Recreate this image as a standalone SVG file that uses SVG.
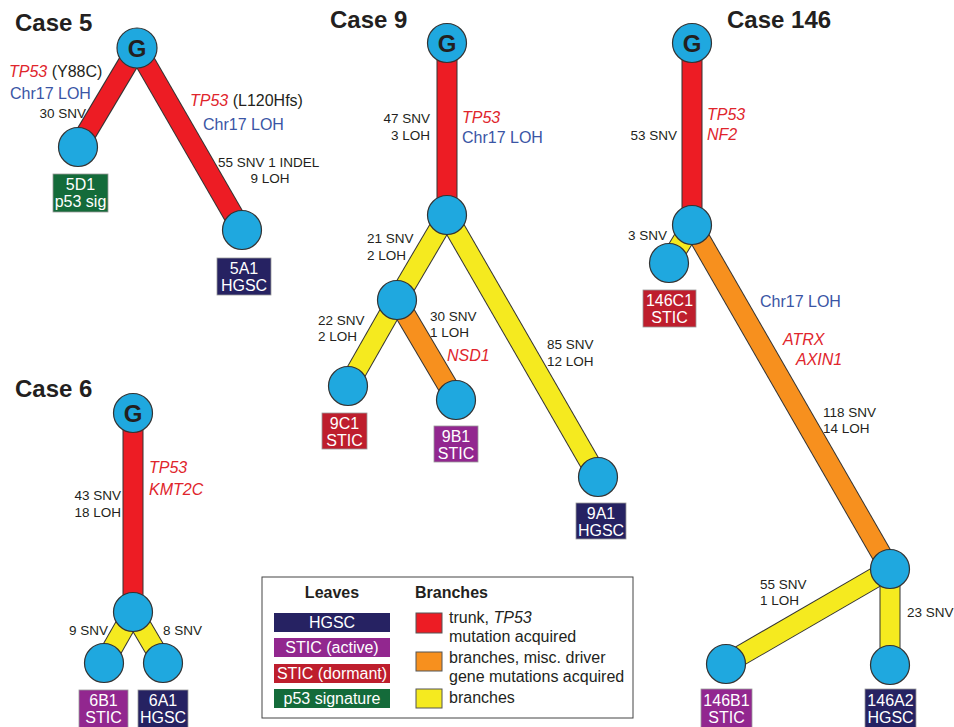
<svg xmlns="http://www.w3.org/2000/svg" width="954" height="727" viewBox="0 0 954 727">
<style>
text{font-family:"Liberation Sans",Arial,sans-serif;fill:#231f20}
.title{font-size:24px;font-weight:bold}
.g{font-size:24px;font-weight:bold;text-anchor:middle}
.cnt{font-size:13.5px}
.gene{font-size:16px;font-style:italic;fill:#e0252c}
.chr{font-size:16px;fill:#3a55a5}
.plain{font-size:16px}
.lbl{font-size:16px;fill:#fff;text-anchor:middle}
.node{fill:#1fa8df;stroke:#333;stroke-width:1.2}
.out{stroke:#333;stroke-width:21;stroke-linecap:butt}
.red{stroke:#ed1c24;stroke-width:19}
.org{stroke:#f7901e;stroke-width:19}
.yel{stroke:#f5ea1f;stroke-width:19}
.hgsc{fill:#262262}
.act{fill:#92278f}
.dor{fill:#be1e2d}
.p53{fill:#146b3a}
.box{stroke:#999;stroke-width:0.8}
.sw{stroke:#555;stroke-width:1}
</style>

<g id="connectors">
  <!-- Case 5 -->
  <line class="out" x1="137" y1="48" x2="78" y2="147"/><line class="red" x1="137" y1="48" x2="78" y2="147"/>
  <line class="out" x1="137" y1="48" x2="242" y2="230"/><line class="red" x1="137" y1="48" x2="242" y2="230"/>
  <!-- Case 9 -->
  <line class="out" x1="447" y1="43" x2="447" y2="215"/><line class="red" x1="447" y1="43" x2="447" y2="215"/>
  <line class="out" x1="447" y1="215" x2="397" y2="300"/><line class="yel" x1="447" y1="215" x2="397" y2="300"/>
  <line class="out" x1="447" y1="215" x2="598" y2="477"/><line class="yel" x1="447" y1="215" x2="598" y2="477"/>
  <line class="out" x1="397" y1="300" x2="348" y2="386"/><line class="yel" x1="397" y1="300" x2="348" y2="386"/>
  <line class="out" x1="397" y1="300" x2="456" y2="400"/><line class="org" x1="397" y1="300" x2="456" y2="400"/>
  <!-- Case 146 -->
  <line class="out" x1="692" y1="43" x2="692" y2="225"/><line class="red" x1="692" y1="43" x2="692" y2="225"/>
  <line class="out" x1="692" y1="225" x2="669" y2="263"/><line class="yel" x1="692" y1="225" x2="669" y2="263"/>
  <line class="out" x1="692" y1="225" x2="890" y2="569"/><line class="org" x1="692" y1="225" x2="890" y2="569"/>
  <line class="out" x1="890" y1="569" x2="726" y2="664"/><line class="yel" x1="890" y1="569" x2="726" y2="664"/>
  <line class="out" x1="890" y1="569" x2="890" y2="665"/><line class="yel" x1="890" y1="569" x2="890" y2="665"/>
  <!-- Case 6 -->
  <line class="out" x1="133" y1="413" x2="133" y2="612"/><line class="red" x1="133" y1="413" x2="133" y2="612"/>
  <line class="out" x1="133" y1="612" x2="104" y2="663"/><line class="yel" x1="133" y1="612" x2="104" y2="663"/>
  <line class="out" x1="133" y1="612" x2="163" y2="663"/><line class="yel" x1="133" y1="612" x2="163" y2="663"/>
</g>

<g id="edge-labels">
  <!-- Case 5 -->
  <text x="9" y="77" class="plain"><tspan class="gene">TP53</tspan> (Y88C)</text>
  <text x="10" y="99" class="chr">Chr17 LOH</text>
  <text x="86" y="118" class="cnt" text-anchor="end">30 SNV</text>
  <text x="190" y="106" class="plain"><tspan class="gene">TP53</tspan> (L120Hfs)</text>
  <text x="203" y="130" class="chr">Chr17 LOH</text>
  <text x="218" y="167" class="cnt">55 SNV 1 INDEL</text>
  <text x="270" y="183" class="cnt" text-anchor="middle">9 LOH</text>
  <!-- Case 9 -->
  <text x="430" y="123" class="cnt" text-anchor="end">47 SNV</text>
  <text x="430" y="140" class="cnt" text-anchor="end">3 LOH</text>
  <text x="462" y="123" class="gene">TP53</text>
  <text x="462" y="143" class="chr">Chr17 LOH</text>
  <text x="367" y="243" class="cnt">21 SNV</text>
  <text x="367" y="260" class="cnt">2 LOH</text>
  <text x="318" y="325" class="cnt">22 SNV</text>
  <text x="318" y="341" class="cnt">2 LOH</text>
  <text x="430" y="321" class="cnt">30 SNV</text>
  <text x="430" y="337" class="cnt">1 LOH</text>
  <text x="447" y="361" class="gene">NSD1</text>
  <text x="547" y="349" class="cnt">85 SNV</text>
  <text x="547" y="366" class="cnt">12 LOH</text>
  <!-- Case 146 -->
  <text x="677" y="140" class="cnt" text-anchor="end">53 SNV</text>
  <text x="707" y="120" class="gene">TP53</text>
  <text x="707" y="140" class="gene">NF2</text>
  <text x="628" y="240" class="cnt">3 SNV</text>
  <text x="760" y="307" class="chr">Chr17 LOH</text>
  <text x="783" y="345" class="gene">ATRX</text>
  <text x="796" y="365" class="gene">AXIN1</text>
  <text x="823" y="417" class="cnt">118 SNV</text>
  <text x="823" y="433" class="cnt">14 LOH</text>
  <text x="760" y="589" class="cnt">55 SNV</text>
  <text x="760" y="605" class="cnt">1 LOH</text>
  <text x="907" y="617" class="cnt">23 SNV</text>
  <!-- Case 6 -->
  <text x="121" y="500" class="cnt" text-anchor="end">43 SNV</text>
  <text x="121" y="517" class="cnt" text-anchor="end">18 LOH</text>
  <text x="149" y="473" class="gene">TP53</text>
  <text x="149" y="495" class="gene">KMT2C</text>
  <text x="108" y="635" class="cnt" text-anchor="end">9 SNV</text>
  <text x="163" y="635" class="cnt">8 SNV</text>
</g>

<g id="titles">
  <text x="15" y="31" class="title">Case 5</text>
  <text x="330" y="28" class="title">Case 9</text>
  <text x="727" y="28" class="title">Case 146</text>
  <text x="15" y="397" class="title">Case 6</text>
</g>

<!-- Case 5 nodes -->
<g id="c5-G"><circle class="node" cx="137" cy="48" r="20"/><text x="137" y="57" class="g">G</text></g>
<g id="c5-5D1"><circle class="node" cx="78" cy="147" r="19.5"/>
  <rect class="p53 box" x="53" y="174" width="55" height="38"/>
  <text x="80.5" y="190" class="lbl">5D1</text><text x="80.5" y="207" class="lbl">p53 sig</text></g>
<g id="c5-5A1"><circle class="node" cx="242" cy="230" r="19.5"/>
  <rect class="hgsc box" x="217" y="258" width="54" height="37"/>
  <text x="244" y="274" class="lbl">5A1</text><text x="244" y="291" class="lbl">HGSC</text></g>

<!-- Case 9 nodes -->
<g id="c9-G"><circle class="node" cx="447" cy="43" r="19.5"/><text x="447" y="52" class="g">G</text></g>
<g id="c9-n1"><circle class="node" cx="447" cy="215" r="19.5"/></g>
<g id="c9-n2"><circle class="node" cx="397" cy="300" r="19.5"/></g>
<g id="c9-9C1"><circle class="node" cx="348" cy="386" r="19.5"/>
  <rect class="dor box" x="322" y="413" width="45" height="36"/>
  <text x="344.5" y="429" class="lbl">9C1</text><text x="344.5" y="446" class="lbl">STIC</text></g>
<g id="c9-9B1"><circle class="node" cx="456" cy="400" r="19.5"/>
  <rect class="act box" x="434" y="426" width="44" height="36"/>
  <text x="456" y="442" class="lbl">9B1</text><text x="456" y="459" class="lbl">STIC</text></g>
<g id="c9-9A1"><circle class="node" cx="598" cy="477" r="19.5"/>
  <rect class="hgsc box" x="576" y="503" width="50" height="36"/>
  <text x="601" y="519" class="lbl">9A1</text><text x="601" y="536" class="lbl">HGSC</text></g>

<!-- Case 146 nodes -->
<g id="c146-G"><circle class="node" cx="692" cy="43" r="19.5"/><text x="692" y="52" class="g">G</text></g>
<g id="c146-n1"><circle class="node" cx="692" cy="225" r="19.5"/></g>
<g id="c146-146C1"><circle class="node" cx="669" cy="263" r="19.5"/>
  <rect class="dor box" x="643" y="290" width="53" height="37"/>
  <text x="669.5" y="306" class="lbl">146C1</text><text x="669.5" y="323" class="lbl">STIC</text></g>
<g id="c146-n2"><circle class="node" cx="890" cy="569" r="19.5"/></g>
<g id="c146-146B1"><circle class="node" cx="726" cy="664" r="19.5"/>
  <rect class="act box" x="701" y="689" width="51" height="40"/>
  <text x="726.5" y="706" class="lbl">146B1</text><text x="726.5" y="723" class="lbl">STIC</text></g>
<g id="c146-146A2"><circle class="node" cx="890" cy="665" r="19.5"/>
  <rect class="hgsc box" x="865" y="689" width="51" height="40"/>
  <text x="890.5" y="706" class="lbl">146A2</text><text x="890.5" y="723" class="lbl">HGSC</text></g>

<!-- Case 6 nodes -->
<g id="c6-G"><circle class="node" cx="133" cy="413" r="19.5"/><text x="133" y="422" class="g">G</text></g>
<g id="c6-n1"><circle class="node" cx="133" cy="612" r="19.5"/></g>
<g id="c6-6B1"><circle class="node" cx="104" cy="663" r="19.5"/>
  <rect class="act box" x="79" y="690" width="49" height="39"/>
  <text x="103.5" y="706" class="lbl">6B1</text><text x="103.5" y="723" class="lbl">STIC</text></g>
<g id="c6-6A1"><circle class="node" cx="163" cy="663" r="19.5"/>
  <rect class="hgsc box" x="138" y="690" width="50" height="39"/>
  <text x="163" y="706" class="lbl">6A1</text><text x="163" y="723" class="lbl">HGSC</text></g>

<!-- Legend -->
<g id="legend">
  <rect x="262" y="577" width="371" height="141" fill="#fff" stroke="#444" stroke-width="1"/>
  <text x="332" y="598" class="plain" font-weight="bold" text-anchor="middle">Leaves</text>
  <text x="415" y="598" class="plain" font-weight="bold">Branches</text>
  <rect class="hgsc" x="274" y="613" width="116" height="19"/>
  <text x="332" y="628" class="lbl">HGSC</text>
  <rect class="act" x="274" y="638" width="116" height="19"/>
  <text x="332" y="653" class="lbl">STIC (active)</text>
  <rect class="dor" x="274" y="664" width="116" height="19"/>
  <text x="332" y="679" class="lbl">STIC (dormant)</text>
  <rect class="p53" x="274" y="689" width="116" height="19"/>
  <text x="332" y="704" class="lbl">p53 signature</text>
  <rect class="sw" x="416" y="613" width="26" height="20" fill="#ed1c24"/>
  <rect class="sw" x="416" y="652" width="26" height="19" fill="#f7901e"/>
  <rect class="sw" x="416" y="689" width="26" height="19" fill="#f5ea1f"/>
  <text x="449" y="623" class="plain">trunk, <tspan font-style="italic">TP53</tspan></text>
  <text x="449" y="642" class="plain">mutation acquired</text>
  <text x="449" y="663" class="plain">branches, misc. driver</text>
  <text x="449" y="682" class="plain">gene mutations acquired</text>
  <text x="449" y="703" class="plain">branches</text>
</g>
</svg>
